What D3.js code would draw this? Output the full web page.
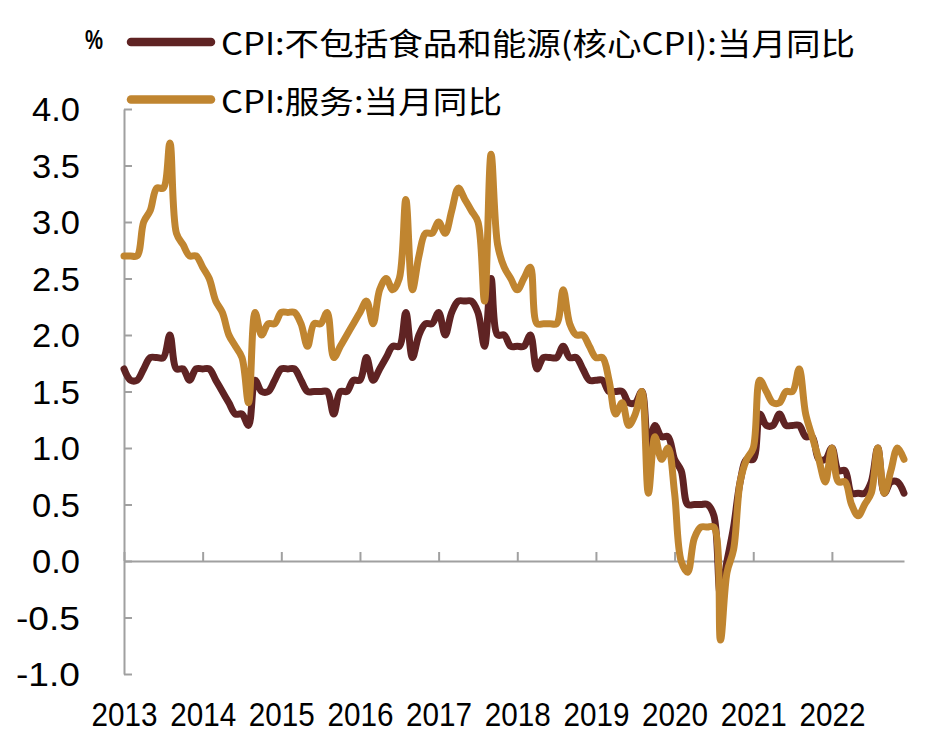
<!DOCTYPE html>
<html>
<head>
<meta charset="utf-8">
<script src="https://cdn.jsdelivr.net/npm/d3@7"></script>
<style>
  html, body { margin: 0; padding: 0; background: #fff; }
  svg { display: block; }
</style>
</head>
<body>
<svg id="chart" width="928" height="749"></svg>
<script>
// ---- Data (monthly, Jun 2013 – May 2023) ----
const startMonth = "2013-06";
const seriesNames = ["CPI:不包括食品和能源(核心CPI):当月同比", "CPI:服务:当月同比"];
const seriesColors = ["#5f2323", "#c08530"];

const coreCPI = [
  1.7, 1.6, 1.6, 1.7, 1.8, 1.8, 1.8, 2.0, 1.7, 1.7, 1.6, 1.7, 1.7, 1.7, 1.6, 1.5, 1.4, 1.3, 1.3, 1.2,
  1.6, 1.5, 1.5, 1.6, 1.7, 1.7, 1.7, 1.6, 1.5, 1.5, 1.5, 1.5, 1.3, 1.5, 1.5, 1.6, 1.6, 1.8, 1.6, 1.7,
  1.8, 1.9, 1.9, 2.2, 1.8, 2.0, 2.1, 2.1, 2.2, 2.0, 2.2, 2.3, 2.3, 2.3, 2.2, 1.9, 2.5, 2.0, 2.0, 1.9,
  1.9, 1.9, 2.0, 1.7, 1.8, 1.8, 1.8, 1.9, 1.8, 1.8, 1.7, 1.6, 1.6, 1.6, 1.5, 1.5, 1.5, 1.4, 1.4, 1.5,
  1.0, 1.2, 1.1, 1.1, 0.9, 0.8, 0.5, 0.5, 0.5, 0.5, 0.4, -0.3, 0.0, 0.3, 0.7, 0.9, 0.9, 1.3, 1.2, 1.2,
  1.3, 1.2, 1.2, 1.2, 1.1, 1.1, 0.9, 0.9, 1.0, 0.8, 0.8, 0.6, 0.6, 0.6, 0.7, 1.0, 0.6, 0.7, 0.7, 0.6
];
const serviceCPI = [
  2.7, 2.7, 2.7, 3.0, 3.1, 3.3, 3.3, 3.7, 2.9, 2.8, 2.7, 2.7, 2.6, 2.5, 2.3, 2.2, 2.0, 1.9, 1.8, 1.4,
  2.2, 2.0, 2.1, 2.1, 2.2, 2.2, 2.2, 2.1, 1.9, 2.1, 2.1, 2.2, 1.8, 1.9, 2.0, 2.1, 2.2, 2.3, 2.1, 2.4,
  2.5, 2.4, 2.5, 3.2, 2.4, 2.7, 2.9, 2.9, 3.0, 2.9, 3.1, 3.3, 3.2, 3.1, 3.0, 2.3, 3.6, 2.8, 2.6, 2.5,
  2.4, 2.5, 2.6, 2.1, 2.1, 2.1, 2.1, 2.4, 2.1, 2.0, 2.0, 1.9, 1.8, 1.8, 1.6, 1.3, 1.4, 1.2, 1.3, 1.5,
  0.6, 1.1, 0.9, 1.0, 0.6, 0.0, -0.1, 0.2, 0.3, 0.3, 0.3, -0.7, -0.1, 0.1, 0.7, 0.9, 1.0, 1.6, 1.5, 1.4,
  1.4, 1.5, 1.5, 1.7, 1.3, 1.1, 0.9, 0.7, 1.0, 0.7, 0.7, 0.5, 0.4, 0.5, 0.6, 1.0, 0.6, 0.8, 1.0, 0.9
];
const yearLabels = ["2013", "2014", "2015", "2016", "2017", "2018", "2019", "2020", "2021", "2022"];
const yTicks = [-1.0, -0.5, 0.0, 0.5, 1.0, 1.5, 2.0, 2.5, 3.0, 3.5, 4.0];
const unitLabel = "%";

// ---- Build ----
const months = d3.range(coreCPI.length).map(i =>
  d3.utcMonth.offset(d3.utcParse("%Y-%m")(startMonth), i));
const yearTickIdx = yearLabels.map((_, k) => k * 12);

const svg = d3.select("#chart");
const axisColor = "#a0a0a0";
const numFont = "'Liberation Sans Narrow', 'Arial Narrow', 'Liberation Sans', sans-serif";
const cjkFont = "'Noto Sans CJK SC', 'Noto Sans', sans-serif";

const x = d3.scaleLinear().domain([0, months.length - 1]).range([124, 904]);
const y = d3.scaleLinear().domain([-1, 4]).range([674, 109]);

// Y axis
const yAxis = d3.axisLeft(y)
  .tickValues(yTicks)
  .tickSizeInner(-8)
  .tickSizeOuter(0)
  .tickPadding(44)
  .tickFormat(d => d3.format(".1f")(d).replace("\u2212", "-"));
const gy = svg.append("g").attr("transform", "translate(124,0)").call(yAxis);
gy.select(".domain").attr("stroke", axisColor).attr("stroke-width", 2);
gy.selectAll(".tick line").attr("stroke", axisColor).attr("stroke-width", 2);
gy.selectAll(".tick text")
  .attr("fill", "#000")
  .style("font-family", numFont)
  .style("font-size", "33px")
  .attr("dy", "0.36em")
  .attr("textLength", function() { return 16 * this.textContent.length; })
  .attr("lengthAdjust", "spacingAndGlyphs");

// X axis at zero
const xAxis = d3.axisBottom(x)
  .tickValues(yearTickIdx)
  .tickSizeInner(-9)
  .tickSizeOuter(0)
  .tickPadding(141)
  .tickFormat((d, k) => yearLabels[k]);
const gx = svg.append("g").attr("transform", `translate(0,${y(0)})`).call(xAxis);
gx.select(".domain").attr("stroke", axisColor).attr("stroke-width", 2);
gx.selectAll(".tick line").attr("stroke", axisColor).attr("stroke-width", 2);
gx.selectAll(".tick text")
  .attr("fill", "#000")
  .style("font-family", numFont)
  .style("font-size", "34px")
  .attr("textLength", 66)
  .attr("lengthAdjust", "spacingAndGlyphs");

// Lines
const line = d3.line()
  .x((d, i) => x(i))
  .y(d => y(d))
  .curve(d3.curveCatmullRom.alpha(0.5));

[coreCPI, serviceCPI].forEach((s, k) => {
  svg.append("path")
    .datum(s)
    .attr("fill", "none")
    .attr("stroke", seriesColors[k])
    .attr("stroke-width", 7)
    .attr("stroke-linejoin", "round")
    .attr("stroke-linecap", "round")
    .attr("d", line);
});

// Unit label
svg.append("text")
  .attr("x", 94).attr("y", 49)
  .attr("text-anchor", "middle")
  .style("font-family", numFont)
  .style("font-size", "27px")
  .style("font-weight", "bold")
  .attr("textLength", 18)
  .attr("lengthAdjust", "spacingAndGlyphs")
  .text(unitLabel);

// Legend
const legendY = [42, 99.5];
const legendLen = [634, 281];
seriesNames.forEach((name, k) => {
  svg.append("line")
    .attr("x1", 131).attr("x2", 211)
    .attr("y1", legendY[k]).attr("y2", legendY[k])
    .attr("stroke", seriesColors[k])
    .attr("stroke-width", 8.5)
    .attr("stroke-linecap", "round");
  svg.append("text")
    .attr("x", 221).attr("y", legendY[k] + 2)
    .attr("dy", "0.36em")
    .style("font-family", cjkFont)
    .style("font-size", "31px")
    .attr("fill", "#000")
    .attr("textLength", legendLen[k])
    .attr("lengthAdjust", "spacingAndGlyphs")
    .text(name);
});
</script>
</body>
</html>
